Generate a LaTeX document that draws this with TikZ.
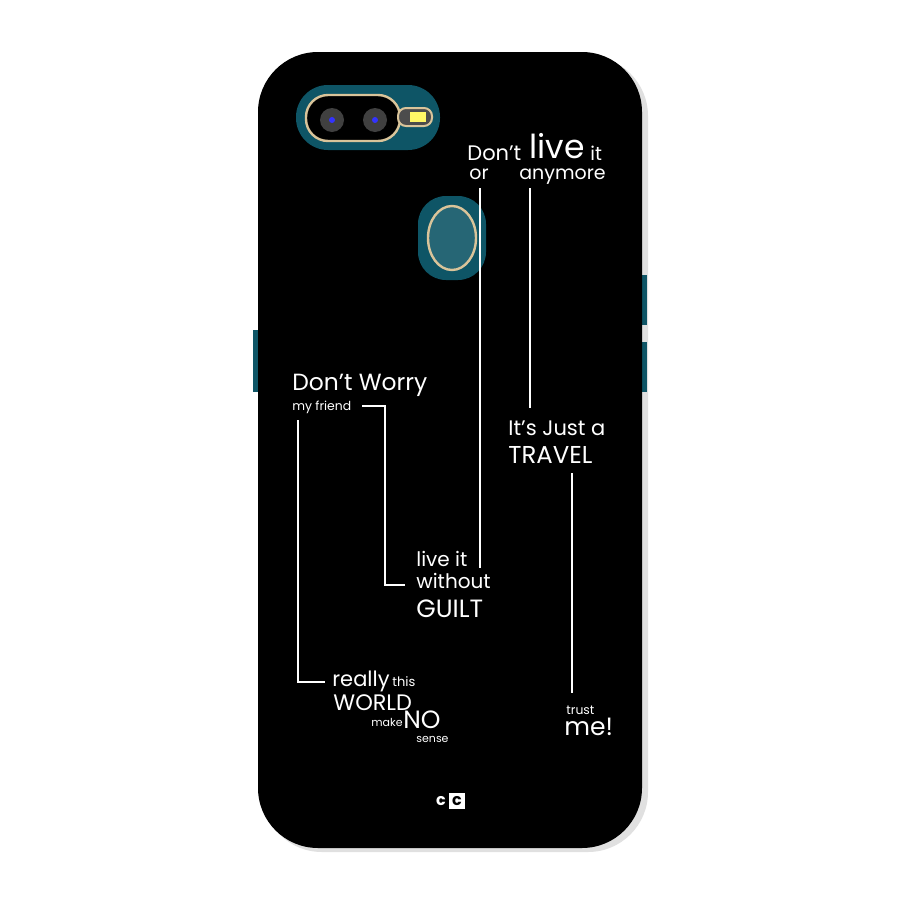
\documentclass[tikz,border=0pt]{standalone}
\usepackage{fontspec}
\setmainfont{Poppins}
\tikzset{
 t/.style={anchor=base west,inner sep=0pt,text=white,font=\fontsize{#1}{#1}\selectfont},
 ln/.style={draw=white,line width=1.1pt},
}
\definecolor{teal0}{HTML}{0E5566}
\definecolor{gold}{HTML}{D9C49A}
\begin{document}
\begin{tikzpicture}[x=0.5pt,y=-0.5pt]
\useasboundingbox[fill=white] (0,0) rectangle (900,900);
% shadow
\fill[black!12,rounded corners=30pt] (262,56) rectangle (648,852);
% side buttons
\fill[teal0] (253,330) rectangle (262,392);
\fill[teal0] (638,275) rectangle (647,325);
\fill[teal0] (638,342) rectangle (647,392);
% body
\fill[black,rounded corners=30pt] (258,52) rectangle (642,848);
% camera
\fill[teal0,rounded corners=16pt] (296,85) rectangle (440,150);
\draw[gold,line width=1.2pt,fill=black,rounded corners=11pt] (306,95) rectangle (400,141);
\draw[gold,line width=1pt,fill=black!70,rounded corners=4pt] (398,108) rectangle (432,126);
\fill[yellow!60!white] (410,112) rectangle (426,122);
\foreach \x in {332,375}{\fill[black!75] (\x,120) circle (12); \fill[blue!80!white] (\x,120) circle (3);}
% fingerprint
\fill[teal0,rounded corners=14pt] (418,196) rectangle (486,280);
\draw[gold,line width=1.2pt,fill=teal0!90!white] (452,238) ellipse (24 and 32);
% texts
\node[t=10.5] (dont) at (467,160) {Don’t};
\node[t=16.5] (live) at (529,158) {live};
\node[t=9.5] (it) at (590,160) {it};
\node[t=9.5] (or) at (469,179) {or};
\node[t=9.5] (any) at (519,179) {anymore};
\node[t=11.7] (worry) at (292,390) {Don’t Worry};
\node[t=6.2] (friend) at (292,410) {my friend};
\node[t=10.5] (just) at (508,435) {It’s Just a};
\node[t=12.2] (travel) at (508,463) {TRAVEL};
\node[t=10] (liveit) at (416,566) {live it};
\node[t=10] (without) at (416,588) {without};
\node[t=12.5] (guilt) at (416,617) {GUILT};
\node[t=10.5] (really) at (332,686) {really};
\node[t=6.5] (this) at (392,686) {this};
\node[t=11.2] (world) at (333,710) {WORLD};
\node[t=5.5] (make) at (371,726) {make};
\node[t=12.5] (no) at (403,728) {NO};
\node[t=5.5] (sense) at (416,742) {sense};
\node[t=6.2] (trust) at (566,714) {trust};
\node[t=12.5] (me) at (564,735) {me!};
% connectors
\coordinate (a1) at (480,188); \coordinate (a2) at (480,568);
\draw[ln] (a1) -- (a2);
\coordinate (b1) at (530,188); \coordinate (b2) at (530,408);
\draw[ln] (b1) -- (b2);
\coordinate (c1) at (362,406); \coordinate (c2) at (405,585);
\draw[ln] (c1) -| (385,585) -- (c2);
\coordinate (d1) at (298,420); \coordinate (d2) at (325,682);
\draw[ln] (d1) |- (d2);
\coordinate (e1) at (572,473); \coordinate (e2) at (572,693);
\draw[ln] (e1) -- (e2);
% logo
\node[inner sep=0pt,text=white,font=\bfseries\fontsize{8}{8}\selectfont] (lc) at (441,801) {c};
\node[fill=white,text=black,inner sep=0.5pt,minimum size=8pt,font=\bfseries\fontsize{8}{8}\selectfont] (lC) at (457,801) {c};
\end{tikzpicture}
\end{document}
